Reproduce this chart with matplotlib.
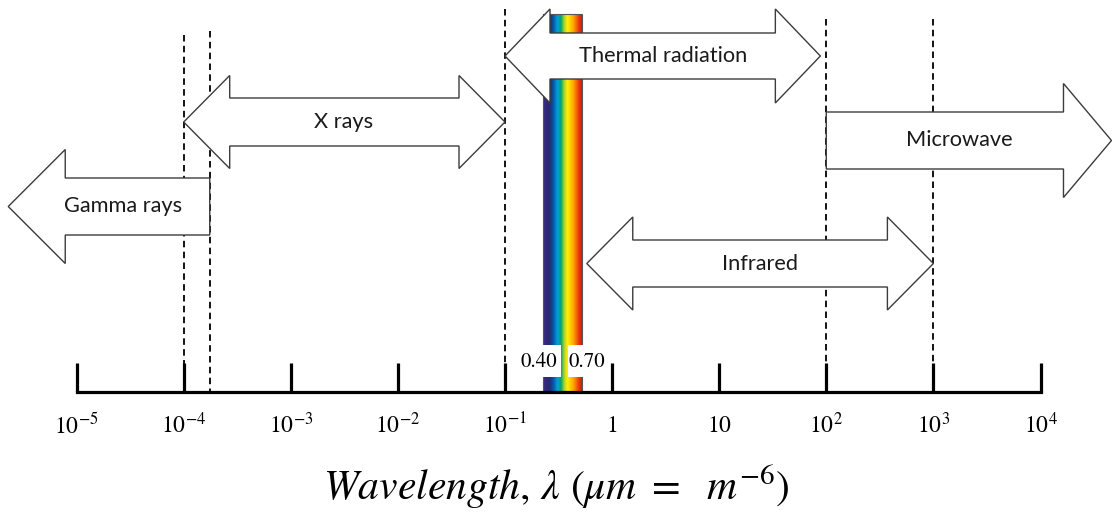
import numpy as np
import matplotlib
matplotlib.use("Agg")
import matplotlib.pyplot as plt
from matplotlib.patches import Polygon, Rectangle
from matplotlib.colors import LinearSegmentedColormap

# ---------------- data (wavelength in micrometres) ----------------
decade_exponents = [-5, -4, -3, -2, -1, 0, 1, 2, 3, 4]
tick_labels = [r'$10^{-5}$', r'$10^{-4}$', r'$10^{-3}$', r'$10^{-2}$', r'$10^{-1}$',
               r'$1$', r'$10$', r'$10^{2}$', r'$10^{3}$', r'$10^{4}$']
band_names = ['Gamma rays', 'X rays', 'Thermal radiation', 'Microwave', 'Infrared']
band_start = [2.3e-6, 1.0e-4, 0.1, 100.0, 0.58]
band_end = [1.75e-4, 0.1, 88.0, 4.6e4, 1000.0]
band_heads = ['left', 'both', 'both', 'right', 'both']
boundary_lines = [1.0e-4, 1.75e-4, 0.1, 100.0, 1000.0]
visible_edges = [0.228, 0.52]
visible_labels = ['0.40', '0.70']
xlabel_text = r'$Wavelength,\, \lambda\ (\mu m\ =\ \ m^{-6})$'

# ---------------- layout (pixel-based, y grows downward) ----------------
W, H = 1112, 517
PX_PER_DEC = 107.1
X_AT_0 = 505 - PX_PER_DEC * (-1)        # pixel of log10 = 0
AXIS_Y = 392
band_y = [206.5, 122, 56, 140.5, 263.5]
shaft_half = [28.5, 24, 23, 28.5, 23.5]
head_half = [57, 46.5, 47, 57, 46.5]
head_len_px = [57, 46, 45, 48, 46]
text_dx_px = [14.5, -1, 0, -9.5, 0]
boundary_top = [35, 31, 9, 19, 19]
bar_top = 14

plt.rcParams['mathtext.fontset'] = 'stix'

fig = plt.figure(figsize=(W / 100, H / 100), dpi=100)
ax = fig.add_axes([0, 0, 1, 1])
ax.set_xlim((0 - X_AT_0) / PX_PER_DEC, (W - X_AT_0) / PX_PER_DEC)
ax.set_ylim(H, 0)
ax.patch.set_alpha(0)

for s in ['top', 'left', 'right']:
    ax.spines[s].set_visible(False)
ax.spines['bottom'].set_position(('data', AXIS_Y))
ax.spines['bottom'].set_bounds(decade_exponents[0], decade_exponents[-1])
ax.spines['bottom'].set_linewidth(2.3)
ax.spines['bottom'].set_capstyle('projecting')
ax.set_xticks(decade_exponents)
ax.set_xticklabels(tick_labels)
ax.tick_params(axis='x', direction='in', length=21, width=2.3, pad=15,
               labelsize=17, colors='black')
ax.tick_params(axis='y', left=False, labelleft=False)
ax.set_xlabel(xlabel_text, fontsize=30, labelpad=17)

def dec(px):
    return px / PX_PER_DEC

# dashed boundary lines
ax.vlines(np.log10(boundary_lines), boundary_top, AXIS_Y, colors='black',
          linestyles=(0, (3.6, 2.4)), linewidth=1.3, zorder=1)

# visible spectrum bar
cmap = LinearSegmentedColormap.from_list('vis', [
    (0.00, '#3b2b8c'), (0.13, '#2b2870'), (0.20, '#1c3580'), (0.29, '#0066b3'),
    (0.37, '#00a0e0'), (0.46, '#00a36a'), (0.54, '#a8d030'), (0.63, '#fff200'),
    (0.79, '#ffa000'), (0.93, '#e8340c'), (1.00, '#c8200c')])
vx0, vx1 = np.log10(visible_edges)
grad = np.linspace(0, 1, 256).reshape(1, -1)
ax.imshow(grad, cmap=cmap, aspect='auto', extent=(vx0, vx1, AXIS_Y, bar_top),
          zorder=2, interpolation='bilinear')
ax.add_patch(Rectangle((vx0, bar_top), vx1 - vx0, AXIS_Y - bar_top, fill=False,
                       edgecolor='#555555', linewidth=0.8, zorder=2.1))

# white label boxes with visible-band labels
vc = (vx0 + vx1) / 2 + dec(2)
gap = dec(3.5)
box_w = dec(42)
ax.add_patch(Rectangle((vc - gap - box_w, 345), box_w, 32, facecolor='white',
                       edgecolor='none', zorder=2.5))
ax.add_patch(Rectangle((vc + gap, 345), box_w, 32, facecolor='white',
                       edgecolor='none', zorder=2.5))
ax.text(vc - gap - dec(4), 362, visible_labels[0], ha='right', va='center',
        family='STIXGeneral', fontsize=15, zorder=2.6)
ax.text(vc + gap + dec(0.5), 362, visible_labels[1], ha='left', va='center',
        family='STIXGeneral', fontsize=15, zorder=2.6)

# band arrows
def arrow_vertices(x0, x1, yc, sh, hh, hl, heads):
    lh = heads in ('left', 'both')
    rh = heads in ('right', 'both')
    v = []
    if lh:
        v += [(x0, yc), (x0 + hl, yc - hh), (x0 + hl, yc - sh)]
    else:
        v += [(x0, yc + sh), (x0, yc - sh)]
    if rh:
        v += [(x1 - hl, yc - sh), (x1 - hl, yc - hh), (x1, yc),
              (x1 - hl, yc + hh), (x1 - hl, yc + sh)]
    else:
        v += [(x1, yc - sh), (x1, yc + sh)]
    if lh:
        v += [(x0 + hl, yc + sh), (x0 + hl, yc + hh)]
    return v

for i, name in enumerate(band_names):
    x0, x1 = np.log10(band_start[i]), np.log10(band_end[i])
    verts = arrow_vertices(x0, x1, band_y[i], shaft_half[i], head_half[i],
                           dec(head_len_px[i]), band_heads[i])
    ax.add_patch(Polygon(verts, closed=True, facecolor='white',
                         edgecolor='#3c3c3c', linewidth=1.0, zorder=3,
                         joinstyle='miter'))
    ax.text((x0 + x1) / 2 + dec(text_dx_px[i]), band_y[i], name, ha='center',
            va='center', family='Lato', fontsize=15.7, color='#1a1a1a', zorder=4)

fig.savefig('out.png', dpi=100)
